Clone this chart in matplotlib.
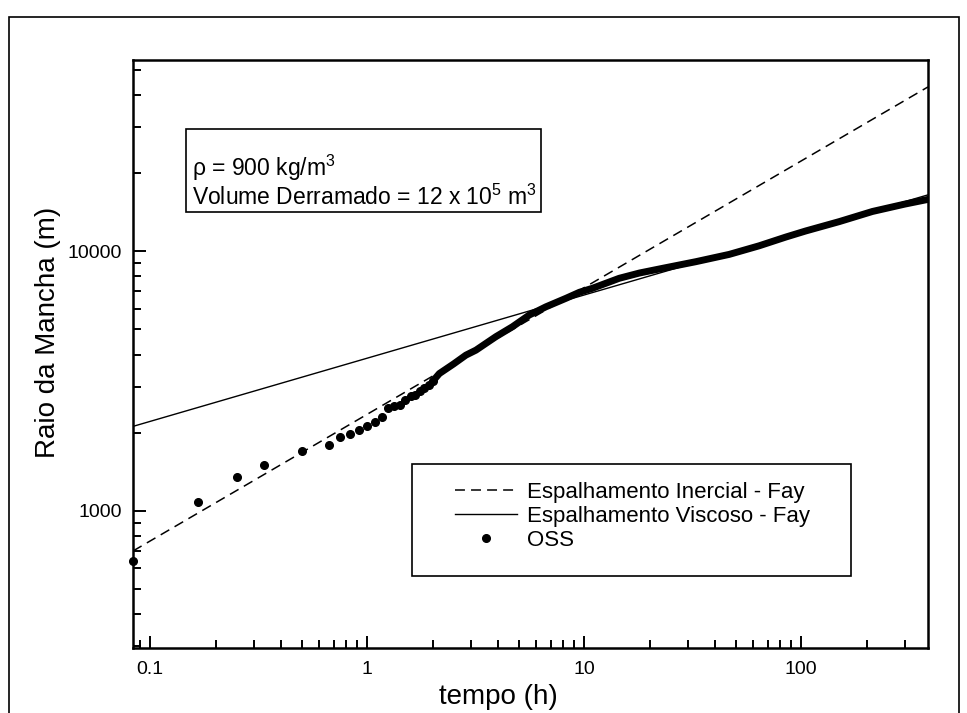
import matplotlib
matplotlib.use("Agg")
import matplotlib.pyplot as plt
from matplotlib.patches import Rectangle
from matplotlib.ticker import LogLocator, NullFormatter, FixedLocator, FixedFormatter

plt.rcParams['font.family'] = ['Liberation Sans', 'DejaVu Sans']
plt.rcParams['mathtext.fontset'] = 'custom'
plt.rcParams['mathtext.rm'] = 'Liberation Sans'
plt.rcParams['mathtext.it'] = 'Liberation Sans'

# ---- data ----
# Fay inertial spreading (dashed) - end points
t_inercial = [0.0833, 384.0]
r_inercial = [700.0, 43000.0]
# Fay viscous spreading (solid) - end points
t_viscoso = [0.0833, 384.0]
r_viscoso = [2115.0, 16500.0]
# OSS model: early discrete outputs (5-min steps)
t_oss = [0.0833, 0.1667, 0.25, 0.3333, 0.5, 0.6667, 0.75, 0.8333, 0.9167, 1.0,
         1.0833, 1.1667, 1.25, 1.3333, 1.4167, 1.5, 1.5833, 1.6667, 1.75,
         1.8333, 1.9167, 2.0]
r_oss = [640, 1080, 1350, 1500, 1700, 1800, 1930, 1980, 2055, 2130,
         2190, 2290, 2480, 2530, 2560, 2680, 2760, 2800, 2900,
         2980, 3060, 3150]
# OSS model: dense part (outputs merge into a continuous band)
t_oss_dense = [2.0, 2.15, 2.5, 2.85, 3.17, 3.5, 3.92, 4.67, 5.58, 6.66, 8.24,
               9.5, 10.9, 14.5, 18.0, 23.0, 32.7, 46.6, 64.0, 85.0, 105.0,
               150.0, 213.0, 300.0, 384.0]
r_oss_dense = [3150, 3380, 3680, 3980, 4160, 4400, 4690, 5120, 5680, 6110, 6590,
               6950, 7200, 7870, 8250, 8600, 9120, 9730, 10500, 11350, 11980,
               13020, 14240, 15200, 15850]

x_ticks = [0.1, 1, 10, 100]
x_tick_labels = ['0.1', '1', '10', '100']
y_ticks = [1000, 10000]
y_tick_labels = ['1000', '10000']

# ---- figure ----
W, H = 967, 713
fig = plt.figure(figsize=(W / 100, H / 100), dpi=100)
L, R, T, B = 133, 928, 60, 648
ax = fig.add_axes([L / W, 1 - B / H, (R - L) / W, (B - T) / H])

# outer frame of the page
fig.patches.append(Rectangle((9 / W, -0.02), (959 - 9) / W, 1 - 17 / H + 0.02,
                             transform=fig.transFigure, fill=False,
                             edgecolor='black', linewidth=1.2))

ax.set_xscale('log')
ax.set_yscale('log')
ax.set_xlim(0.0833, 384)
ax.set_ylim(296, 54600)

ax.plot(t_inercial, r_inercial, color='black', lw=1.1,
        linestyle=(0, (6.5, 4.0)), label='Espalhamento Inercial - Fay')
ax.plot(t_viscoso, r_viscoso, color='black', lw=1.0,
        label='Espalhamento Viscoso - Fay')
ax.plot(t_oss_dense, r_oss_dense, color='black', lw=5.0,
        solid_capstyle='round')
ax.plot(t_oss, r_oss, linestyle='none', marker='o', markersize=5.5,
        color='black', label='OSS', clip_on=False)

# axes style
for side in ['left', 'bottom', 'right', 'top']:
    ax.spines[side].set_linewidth(1.8)
ax.xaxis.set_major_locator(FixedLocator(x_ticks))
ax.xaxis.set_major_formatter(FixedFormatter(x_tick_labels))
ax.yaxis.set_major_locator(FixedLocator(y_ticks))
ax.yaxis.set_major_formatter(FixedFormatter(y_tick_labels))
ax.xaxis.set_minor_locator(LogLocator(base=10, subs=range(2, 10)))
ax.yaxis.set_minor_locator(LogLocator(base=10, subs=range(2, 10)))
ax.xaxis.set_minor_formatter(NullFormatter())
ax.yaxis.set_minor_formatter(NullFormatter())
ax.tick_params(which='both', direction='in', top=False, right=False, width=1.4)
ax.tick_params(which='major', length=9, labelsize=14)
ax.tick_params(which='minor', length=5.5)
ax.tick_params(axis='x', which='major', pad=9)
ax.tick_params(axis='y', which='major', pad=8)

ax.set_xlabel('tempo (h)', fontsize=20)
ax.set_ylabel('Raio da Mancha (m)', fontsize=20)
ax.xaxis.set_label_coords((498 - L) / (R - L), (B - 684) / (B - T))
ax.yaxis.set_label_coords((61 - L) / (R - L), (B - 332) / (B - T))

# info box
def ax_x(px):
    return (px - L) / (R - L)

def ax_y(py):
    return (B - py) / (B - T)

ax.add_patch(Rectangle((ax_x(186), ax_y(212)), ax_x(541) - ax_x(186),
                       ax_y(129) - ax_y(212), transform=ax.transAxes,
                       fill=False, edgecolor='black', linewidth=1.2, zorder=5))
ax.text(ax_x(192), ax_y(176), r'ρ = 900 kg/m$^3$', transform=ax.transAxes,
        fontsize=16.5, va='baseline', ha='left')
ax.text(ax_x(192), ax_y(205), r'Volume Derramado = 12 x 10$^5$ m$^3$',
        transform=ax.transAxes, fontsize=16.5, va='baseline', ha='left')

# legend box
ax.add_patch(Rectangle((ax_x(412), ax_y(576)), ax_x(851) - ax_x(412),
                       ax_y(464) - ax_y(576), transform=ax.transAxes,
                       fill=False, edgecolor='black', linewidth=1.2, zorder=5))
leg = ax.legend(loc='upper left', bbox_to_anchor=(ax_x(455), ax_y(482)),
                frameon=False, fontsize=16, borderpad=0, borderaxespad=0,
                handlelength=2.8, handletextpad=0.45, labelspacing=0.13,
                markerscale=1.0)

fig.savefig('out.png', dpi=100, facecolor='white')
